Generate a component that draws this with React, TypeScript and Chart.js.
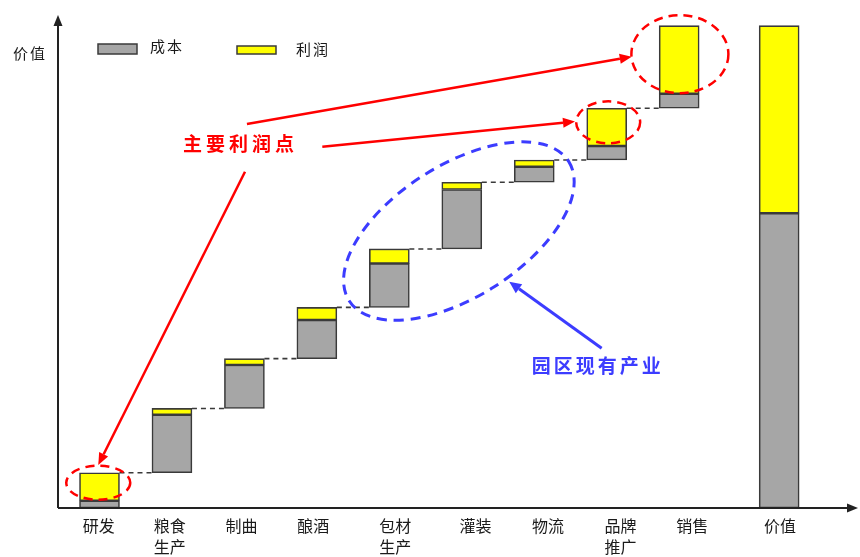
import { useEffect, useRef } from 'react';
import { Chart, registerables } from 'chart.js';

Chart.register(...registerables);

// ---- data ----
const categoryLabels: string[][] = [['研发'], ['粮食', '生产'], ['制曲'], ['酿酒'], ['包材', '生产'], ['灌装'], ['物流'], ['品牌', '推广'], ['销售'], ['价值']];
const barPositions = [0, 1, 2, 3, 4, 5, 6, 7, 8, 9.38];
const labelPositions = [-0.01, 0.97, 1.96, 2.95, 4.08, 5.19, 6.19, 7.19, 8.18, 9.39];
const costBase = [0, 7.3, 20.6, 30.9, 41.5, 53.6, 67.4, 72.0, 82.7, 0];
const costTop = [1.5, 19.3, 29.6, 38.9, 50.6, 65.9, 70.6, 74.9, 85.7, 61.0];
const profitTop = [7.3, 20.6, 30.9, 41.5, 53.6, 67.4, 72.0, 82.7, 99.8, 99.8];
const seriesNames = ['成本', '利润'];
const yAxisTitle = '价值';
const profitNote = '主要利润点';
const parkNote = '园区现有产业';

const FONT = '"Noto Sans CJK SC", "Noto Sans", sans-serif';
const GRAY = '#a6a6a6';
const YELLOW = '#ffff00';
const EDGE = '#3a3a3a';
const RED = '#ff0000';
const BLUE = '#3c3cff';

function arrow(ctx: CanvasRenderingContext2D, x1: number, y1: number, x2: number, y2: number, color: string, lw: number, hl: number, hw: number) {
  const a = Math.atan2(y2 - y1, x2 - x1);
  const bx = x2 - hl * Math.cos(a);
  const by = y2 - hl * Math.sin(a);
  ctx.save();
  ctx.strokeStyle = color;
  ctx.fillStyle = color;
  ctx.lineWidth = lw;
  ctx.setLineDash([]);
  ctx.beginPath();
  ctx.moveTo(x1, y1);
  ctx.lineTo(bx, by);
  ctx.stroke();
  ctx.beginPath();
  ctx.moveTo(x2, y2);
  ctx.lineTo(bx + hw * Math.sin(a), by - hw * Math.cos(a));
  ctx.lineTo(bx - hw * Math.sin(a), by + hw * Math.cos(a));
  ctx.closePath();
  ctx.fill();
  ctx.restore();
}

const overlayPlugin = {
  id: 'overlay',
  afterDraw(chart: any) {
    const { ctx, chartArea: ca, scales } = chart;
    const xs = scales.x;
    const ys = scales.y;
    const X = (v: number) => xs.getPixelForValue(v);
    const Y = (v: number) => ys.getPixelForValue(v);
    ctx.save();

    // connectors
    const meta = chart.getDatasetMeta(1);
    ctx.strokeStyle = EDGE;
    ctx.lineWidth = 1.6;
    ctx.setLineDash([5, 4]);
    for (let i = 0; i < 8; i++) {
      const a = meta.data[i];
      const b = meta.data[i + 1];
      const yy = Y(profitTop[i]);
      ctx.beginPath();
      ctx.moveTo(a.x + a.width / 2, yy);
      ctx.lineTo(b.x - b.width / 2, yy);
      ctx.stroke();
    }
    ctx.setLineDash([]);

    // axes with arrows
    ctx.strokeStyle = '#222';
    ctx.fillStyle = '#222';
    ctx.lineWidth = 2;
    ctx.beginPath();
    ctx.moveTo(ca.left, ca.bottom);
    ctx.lineTo(ca.left, ca.top + 8);
    ctx.moveTo(ca.left, ca.bottom);
    ctx.lineTo(ca.right - 8, ca.bottom);
    ctx.stroke();
    ctx.beginPath();
    ctx.moveTo(ca.left, ca.top);
    ctx.lineTo(ca.left - 4.5, ca.top + 11);
    ctx.lineTo(ca.left + 4.5, ca.top + 11);
    ctx.closePath();
    ctx.fill();
    ctx.beginPath();
    ctx.moveTo(ca.right, ca.bottom);
    ctx.lineTo(ca.right - 11, ca.bottom - 4.5);
    ctx.lineTo(ca.right - 11, ca.bottom + 4.5);
    ctx.closePath();
    ctx.fill();

    // y axis title
    ctx.fillStyle = '#1a1a1a';
    ctx.font = `15px ${FONT}`;
    ctx.textAlign = 'center';
    ctx.textBaseline = 'middle';
    (ctx as any).letterSpacing = '2px';
    ctx.fillText(yAxisTitle, 30, 53);

    // legend
    ctx.textAlign = 'left';
    ctx.lineWidth = 1.5;
    ctx.strokeStyle = EDGE;
    ctx.fillStyle = GRAY;
    ctx.fillRect(98, 44, 39, 10);
    ctx.strokeRect(98, 44, 39, 10);
    ctx.fillStyle = YELLOW;
    ctx.fillRect(237, 46, 39, 8);
    ctx.strokeRect(237, 46, 39, 8);
    ctx.fillStyle = '#1a1a1a';
    ctx.fillText(seriesNames[0], 150, 46.5);
    ctx.fillText(seriesNames[1], 296, 49);

    // red dashed ellipses
    ctx.strokeStyle = RED;
    ctx.lineWidth = 2.5;
    ctx.setLineDash([9, 6]);
    const redEllipses = [
      [-0.017, 5.23, 32, 17],
      [7.02, 79.8, 32, 21],
      [8.01, 93.9, 48.5, 39],
    ];
    for (const [cx, cy, rx, ry] of redEllipses) {
      ctx.beginPath();
      ctx.ellipse(X(cx), Y(cy), rx, ry, 0, 0, Math.PI * 2);
      ctx.stroke();
    }
    // blue dashed ellipse
    ctx.strokeStyle = BLUE;
    ctx.lineWidth = 3;
    ctx.setLineDash([10, 7]);
    ctx.beginPath();
    ctx.ellipse(X(4.96), Y(57.3), 130, 66, (-32.4 * Math.PI) / 180, 0, Math.PI * 2);
    ctx.stroke();
    ctx.setLineDash([]);

    // arrows
    arrow(ctx, X(2.035), Y(79.45), X(7.345), Y(93.38), RED, 2.5, 12, 5);
    arrow(ctx, X(3.075), Y(74.76), X(6.562), Y(79.94), RED, 2.5, 12, 5);
    arrow(ctx, X(2.008), Y(69.58), X(-0.017), Y(8.9), RED, 2.5, 12, 5);
    arrow(ctx, X(6.93), Y(33.04), X(5.655), Y(46.82), BLUE, 3, 12, 5.5);

    // notes
    ctx.textAlign = 'left';
    ctx.textBaseline = 'middle';
    ctx.font = `bold 19px ${FONT}`;
    (ctx as any).letterSpacing = '4px';
    ctx.fillStyle = RED;
    ctx.fillText(profitNote, X(1.153), Y(75.3));
    (ctx as any).letterSpacing = '3px';
    ctx.fillStyle = BLUE;
    ctx.fillText(parkNote, X(5.965), Y(29.38));
    (ctx as any).letterSpacing = '0px';
    ctx.restore();
  },
};

export default function App() {
  const ref = useRef<HTMLCanvasElement | null>(null);
  useEffect(() => {
    if (!ref.current) return;
    const chart = new Chart(ref.current, {
      type: 'bar',
      data: {
        datasets: [
          {
            label: seriesNames[0],
            data: barPositions.map((p, i) => ({ x: p, y: [costBase[i], costTop[i]] })) as any,
            backgroundColor: GRAY,
            borderColor: EDGE,
            borderWidth: 1.6,
            borderSkipped: false,
            barThickness: 40,
            grouped: false,
          },
          {
            label: seriesNames[1],
            data: barPositions.map((p, i) => ({ x: p, y: [costTop[i], profitTop[i]] })) as any,
            backgroundColor: YELLOW,
            borderColor: EDGE,
            borderWidth: 1.6,
            borderSkipped: false,
            barThickness: 40,
            grouped: false,
          },
        ],
      },
      options: {
        responsive: false,
        animation: false,
        layout: { padding: { left: 58, top: 15, right: 2, bottom: -8 } },
        plugins: { legend: { display: false }, tooltip: { enabled: false } },
        scales: {
          x: {
            type: 'linear',
            offset: false,
            min: -0.5727,
            max: 10.468,
            grid: { display: false, drawTicks: false },
            border: { display: false },
            afterBuildTicks: (axis: any) => {
              axis.ticks = labelPositions.map((v) => ({ value: v }));
            },
            ticks: {
              autoSkip: false,
              maxRotation: 0,
              padding: 7.5,
              color: '#1a1a1a',
              font: { family: FONT, size: 16, lineHeight: 1.3125 },
              callback: (_v: any, i: number) => categoryLabels[i],
            },
          },
          y: { display: false, min: 0, max: 102 },
        },
      },
      plugins: [overlayPlugin],
    } as any);
    return () => chart.destroy();
  }, []);
  return (
    <div style={{ position: 'absolute', left: 0, top: 0, width: 860, height: 557, background: '#fff' }}>
      <canvas ref={ref} width={860} height={557} />
    </div>
  );
}
